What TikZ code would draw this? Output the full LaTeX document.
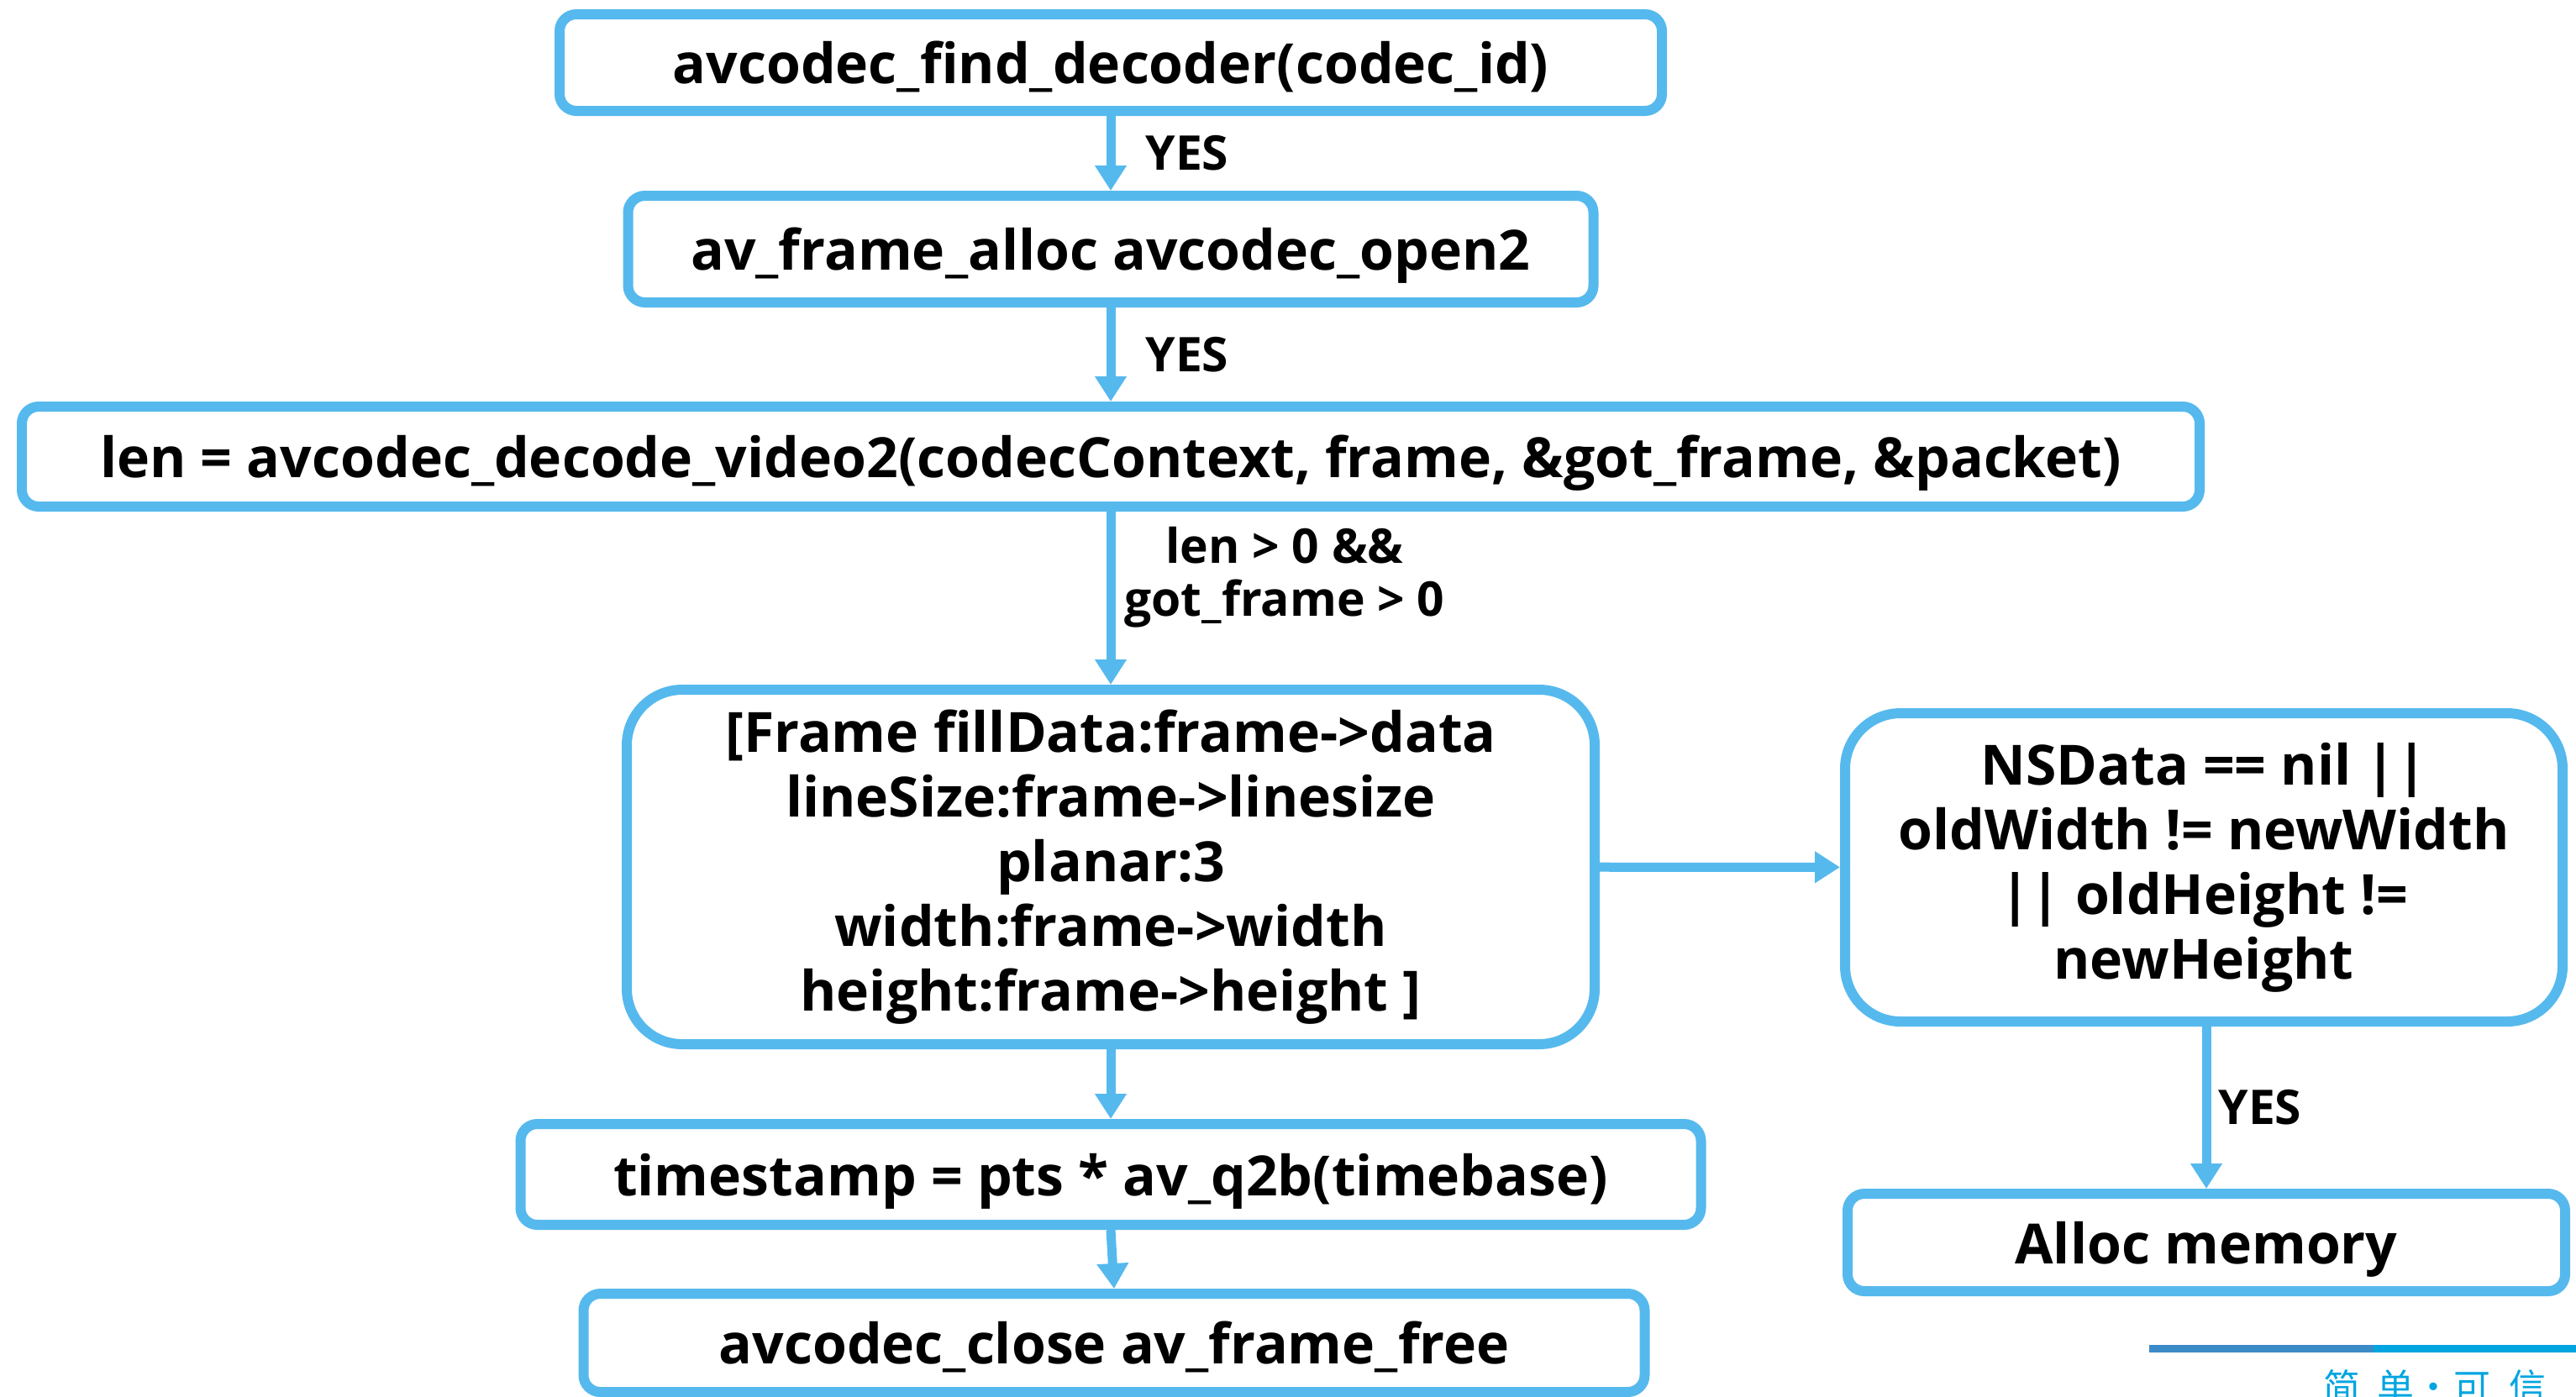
\documentclass[tikz,border=0pt]{standalone}
\usepackage{fontspec}
\setmainfont{Open Sans}
\newfontfamily\cjkfont{Noto Sans CJK SC}
\usetikzlibrary{arrows.meta,positioning}

\definecolor{flowblue}{HTML}{56B9ED}
\definecolor{wmdark}{HTML}{3A8BC8}
\definecolor{wmlight}{HTML}{00A5E0}

\tikzset{
  roundbox/.style={draw=flowblue,line width=0.12cm,rounded corners=0.66cm,
    align=center,inner sep=0pt,font=\fontsize{18.8}{21.9}\selectfont\bfseries},
  stepbox/.style={roundbox,rounded corners=0.2cm,text height=14.3pt,text depth=0pt},
  flow/.style={draw=flowblue,line width=0.11cm,
    -{Triangle[length=0.3cm,width=0.36cm]}},
  cond/.style={align=center,inner sep=0pt,
    font=\fontsize{16.2}{17.8}\selectfont\bfseries},
  motto/.style={anchor=base,inner sep=0pt,text=wmlight,
    font=\cjkfont\fontsize{12.5}{12.5}\selectfont}
}

\begin{document}
\begin{tikzpicture}
\useasboundingbox (0,0) rectangle (30.66,-16.62);
\clip (0,0) rectangle (30.66,-16.62);

% main column
\node[stepbox,minimum width=13.12cm,minimum height=1.15cm] (finddec) at (13.22,-0.745)
  {avcodec\_find\_decoder(codec\_id)};
\node[stepbox,minimum width=11.49cm,minimum height=1.27cm] (openctx) at (13.22,-2.965)
  {av\_frame\_alloc avcodec\_open2};
\node[stepbox,minimum width=25.92cm,minimum height=1.19cm] (decode) at (13.22,-5.435)
  {len = avcodec\_decode\_video2(codecContext, frame, \&got\_frame, \&packet)};
\node[roundbox,minimum width=11.52cm,minimum height=4.22cm] (filldata) at (13.22,-10.32)
  {[Frame fillData:frame->data\\
   lineSize:frame->linesize\\
   planar:3\\
   width:frame->width\\
   height:frame->height ]};
\node[stepbox,minimum width=14.05cm,minimum height=1.20cm] (timestamp) at (13.22,-13.98)
  {timestamp = pts * av\_q2b(timebase)};
\node[stepbox,minimum width=12.63cm,minimum height=1.17cm] (closedec) at (13.26,-15.985)
  {avcodec\_close av\_frame\_free};

% right column
\node[roundbox,minimum width=8.54cm,minimum height=3.67cm] (sizecheck) at (26.23,-10.325)
  {NSData == nil ||\\
   oldWidth != newWidth\\
   || oldHeight !=\\
   newHeight};
\node[stepbox,minimum width=8.54cm,minimum height=1.16cm] (allocmem) at (26.26,-14.79)
  {Alloc memory};

% connectors
\draw[flow] (finddec) -- (openctx)
  node[cond,midway,right=0.36cm] (yesa) {YES};
\draw[flow] (openctx) -- (decode)
  node[cond,midway,right=0.36cm] (yesb) {YES};
\draw[flow] (decode) -- (filldata)
  node[cond,pos=0.38,right=0.11cm] (gotframe) {len > 0 \&\&\\got\_frame > 0};
\draw[flow] (filldata) -- (sizecheck);
\draw[flow] (filldata) -- (timestamp);
\draw[flow] (timestamp.south) -- (closedec.north);
\draw[flow] (sizecheck.south -| allocmem) -- (allocmem)
  node[cond,midway,right=0.09cm] (yesc) {YES};

% footer mark
\draw[line width=0.09cm,wmdark] (25.58,-16.05) -- (28.25,-16.05);
\draw[line width=0.09cm,wmlight] (28.25,-16.05) -- (30.66,-16.05);
\node[motto] (wma) at (27.87,-16.67) {简};
\node[motto] (wmb) at (28.51,-16.67) {单};
\node[motto] (wmc) at (28.96,-16.67) {·};
\node[motto] (wmd) at (29.42,-16.67) {可};
\node[motto] (wme) at (30.08,-16.67) {信};

\end{tikzpicture}
\end{document}
